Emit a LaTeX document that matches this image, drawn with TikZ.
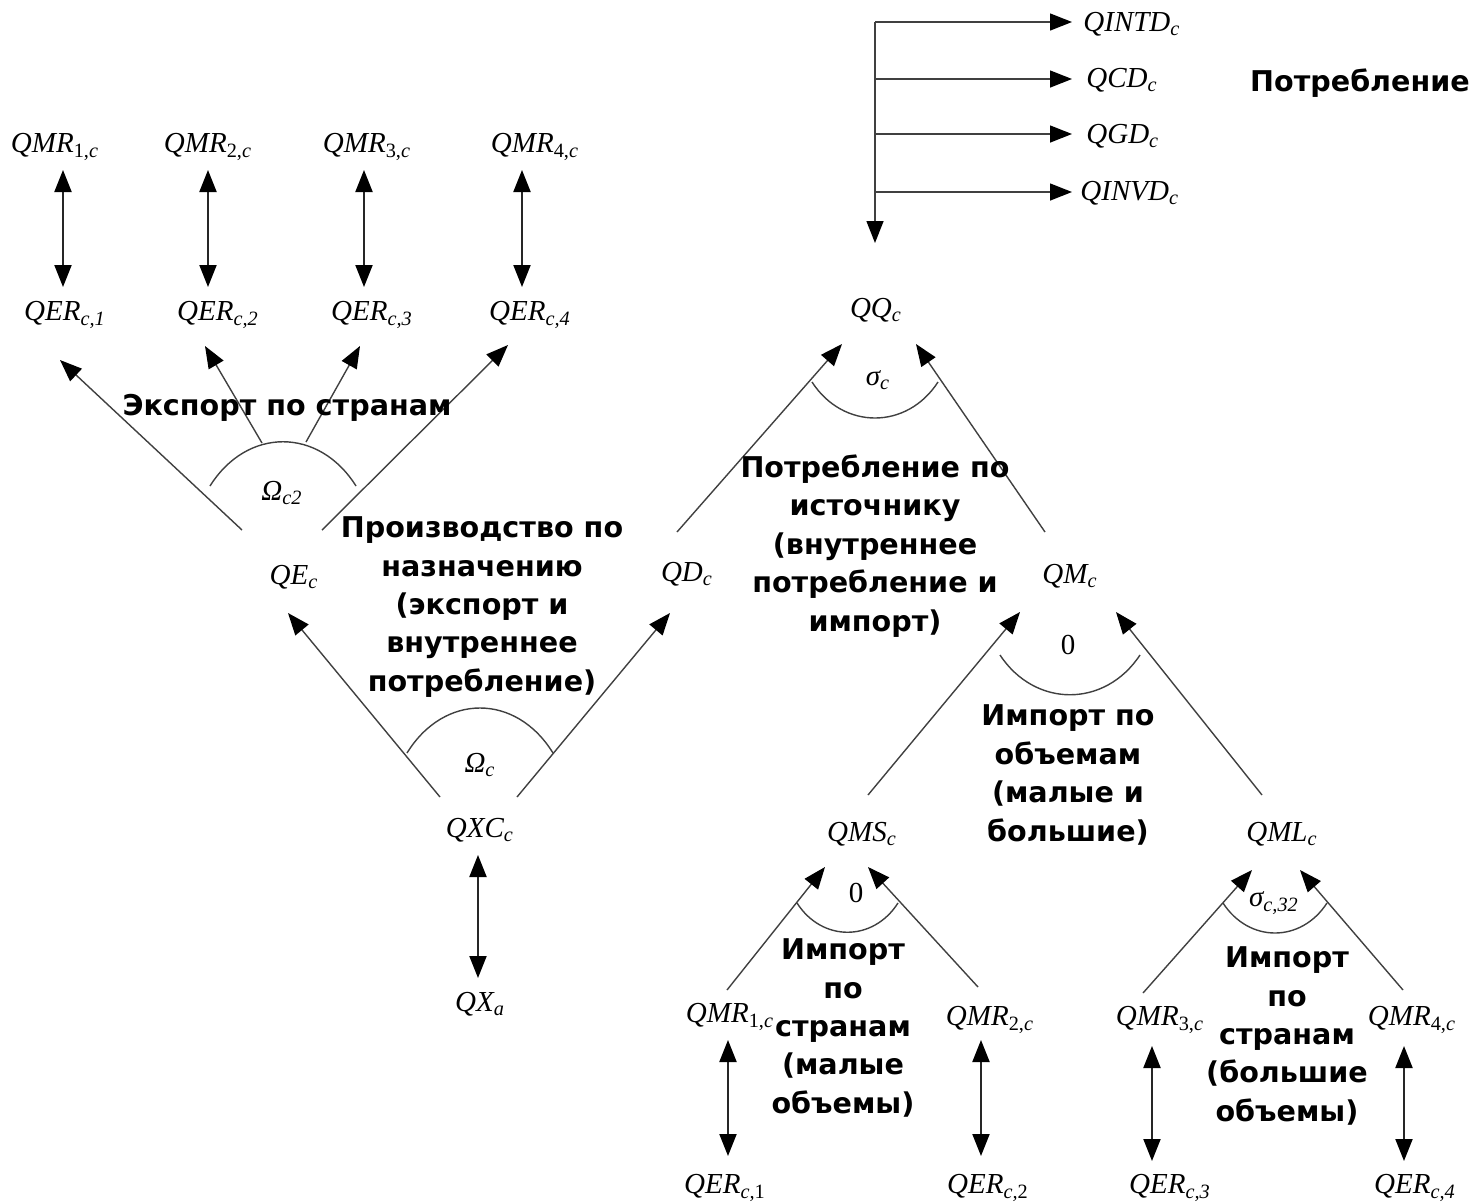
\documentclass[tikz,border=0pt]{standalone}
\usepackage{fontspec}
\setmainfont{Liberation Serif}
\newfontfamily\rufont{DejaVu Sans}
\usetikzlibrary{arrows.meta}
\newcommand\sbs[1]{\textsubscript{#1}}
\begin{document}
\begin{tikzpicture}[x=0.5pt,y=-0.5pt,
  ml/.style={font=\fontsize{14.5}{16}\selectfont\itshape, inner sep=0pt},
  rl/.style={font=\rufont\bfseries\fontsize{14.3}{19.2}\selectfont, align=center, inner sep=0pt},
  tipa/.tip={Triangle[length=11pt,width=8.5pt,color=black]},
  arr/.style={-tipa, line width=0.7pt, draw=black!75},
  dar/.style={tipa-tipa, line width=1pt, draw=black!85},
  arcl/.style={line width=0.7pt, draw=black!75}]
\useasboundingbox (0,0) rectangle (1474,1201);

% ---------- top-left group ----------
\node[ml] (mr1) at (55,147) {QMR\sbs{\upshape 1,\itshape c}};
\node[ml] (mr2) at (208,147) {QMR\sbs{\upshape 2,\itshape c}};
\node[ml] (mr3) at (367,147) {QMR\sbs{\upshape 3,\itshape c}};
\node[ml] (mr4) at (535,147) {QMR\sbs{\upshape 4,\itshape c}};
\node[ml] (er1) at (65,315) {QER\sbs{c,1}};
\node[ml] (er2) at (218,315) {QER\sbs{c,2}};
\node[ml] (er3) at (372,315) {QER\sbs{c,3}};
\node[ml] (er4) at (530,315) {QER\sbs{c,4}};
\coordinate (v1a) at (63,170);  \coordinate (v1b) at (63,287);
\coordinate (v2a) at (208,170); \coordinate (v2b) at (208,287);
\coordinate (v3a) at (364,170); \coordinate (v3b) at (364,287);
\coordinate (v4a) at (522,170); \coordinate (v4b) at (522,287);
\draw[dar] (v1a) -- (v1b);
\draw[dar] (v2a) -- (v2b);
\draw[dar] (v3a) -- (v3b);
\draw[dar] (v4a) -- (v4b);

\node[ml] (qe) at (294,577) {QE\sbs{c}};
\node[ml] (om2) at (282,493) {Ω\sbs{c2}};
\coordinate (e1s) at (242,530); \coordinate (e1e) at (60,360);
\coordinate (e2s) at (262,443); \coordinate (e2e) at (205,346);
\coordinate (e3s) at (306,442); \coordinate (e3e) at (360,346);
\coordinate (e4s) at (322,530); \coordinate (e4e) at (508,345);
\draw[arr] (e1s) -- (e1e);
\draw[arr] (e2s) -- (e2e);
\draw[arr] (e3s) -- (e3e);
\draw[arr] (e4s) -- (e4e);
\draw[arcl] (210,486) .. controls (247,427) and (319,427) .. (356,486);
\node[rl] (t1) at (287,408) {Экспорт по странам};

% ---------- production ----------
\node[ml] (qxc) at (480,830) {QXC\sbs{c}};
\node[ml] (qxa) at (480,1004) {QX\sbs{a}};
\node[ml] (omc) at (480,765) {Ω\sbs{c}};
\coordinate (x1a) at (478,855); \coordinate (x1b) at (478,978);
\draw[dar] (x1a) -- (x1b);
\coordinate (p1s) at (440,797); \coordinate (p1e) at (288,613);
\coordinate (p2s) at (517,797); \coordinate (p2e) at (670,613);
\draw[arr] (p1s) -- (p1e);
\draw[arr] (p2s) -- (p2e);
\draw[arcl] (407,753) .. controls (444,693) and (516,693) .. (553,753);
\node[rl] (t2) at (482,607) {Производство по\\назначению\\(экспорт и\\внутреннее\\потребление)};

% ---------- consumption ----------
\node[ml] (qd) at (687,574) {QD\sbs{c}};
\node[ml] (qq) at (876,310) {QQ\sbs{c}};
\node[ml] (sgc) at (878,380) {σ\sbs{c}};
\node[ml] (qm) at (1070,576) {QM\sbs{c}};
\coordinate (q1s) at (677,532); \coordinate (q1e) at (842,344);
\coordinate (q2s) at (1045,532); \coordinate (q2e) at (916,344);
\draw[arr] (q1s) -- (q1e);
\draw[arr] (q2s) -- (q2e);
\draw[arcl] (812,382) .. controls (843,430) and (907,430) .. (938,382);
\node[rl] (t3) at (875,546) {Потребление по\\источнику\\(внутреннее\\потребление и\\импорт)};

% ---------- top final demand ----------
\node[ml, anchor=west] (qintd) at (1083,24) {QINTD\sbs{c}};
\node[ml, anchor=west] (qcd) at (1086,80) {QCD\sbs{c}};
\node[ml, anchor=west] (qgd) at (1086,136) {QGD\sbs{c}};
\node[ml, anchor=west] (qinvd) at (1080,193) {QINVD\sbs{c}};
\coordinate (vt) at (875,22); \coordinate (vb) at (875,243);
\draw[arr] (vt) -- (vb);
\coordinate (h1) at (875,22);  \coordinate (h1e) at (1072,22);
\coordinate (h2) at (875,79);  \coordinate (h2e) at (1072,79);
\coordinate (h3) at (875,134); \coordinate (h3e) at (1072,134);
\coordinate (h4) at (875,192); \coordinate (h4e) at (1072,192);
\draw[arr] (h1) -- (h1e);
\draw[arr] (h2) -- (h2e);
\draw[arr] (h3) -- (h3e);
\draw[arr] (h4) -- (h4e);
\node[rl] (t4) at (1360,83) {Потребление};

% ---------- imports by volume ----------
\node[ml] (zero1) at (1068,645) {\upshape 0};
\node[ml] (qms) at (862,834) {QMS\sbs{c}};
\node[ml] (qml) at (1282,834) {QML\sbs{c}};
\coordinate (m1s) at (868,795); \coordinate (m1e) at (1020,612);
\coordinate (m2s) at (1262,795); \coordinate (m2e) at (1116,612);
\draw[arr] (m1s) -- (m1e);
\draw[arr] (m2s) -- (m2e);
\draw[arcl] (1000,655) .. controls (1035,708) and (1105,708) .. (1140,655);
\node[rl] (t5) at (1068,775) {Импорт по\\объемам\\(малые и\\большие)};

% ---------- small volumes ----------
\node[ml] (zero2) at (856,893) {\upshape 0};
\node[ml] (bmr1) at (730,1017) {QMR\sbs{\upshape 1,\itshape c}};
\node[ml] (bmr2) at (990,1020) {QMR\sbs{\upshape 2,\itshape c}};
\node[ml] (ber1) at (725,1188) {QER\sbs{\itshape c,\upshape 1}};
\node[ml] (ber2) at (988,1188) {QER\sbs{\itshape c,\upshape 2}};
\coordinate (s1s) at (727,990); \coordinate (s1e) at (825,867);
\coordinate (s2s) at (978,987); \coordinate (s2e) at (868,867);
\draw[arr] (s1s) -- (s1e);
\draw[arr] (s2s) -- (s2e);
\draw[arcl] (797,903) .. controls (822,942) and (873,942) .. (898,903);
\coordinate (b1a) at (728,1040); \coordinate (b1b) at (728,1156);
\coordinate (b2a) at (981,1040); \coordinate (b2b) at (981,1156);
\draw[dar] (b1a) -- (b1b);
\draw[dar] (b2a) -- (b2b);
\node[rl] (t6) at (843,1028) {Импорт\\по\\странам\\(малые\\объемы)};

% ---------- large volumes ----------
\node[ml] (sg32) at (1274,903) {σ\sbs{c,32}};
\node[ml] (bmr3) at (1160,1020) {QMR\sbs{\upshape 3,\itshape c}};
\node[ml] (bmr4) at (1412,1020) {QMR\sbs{\upshape 4,\itshape c}};
\node[ml] (ber3) at (1170,1188) {QER\sbs{c,3}};
\node[ml] (ber4) at (1415,1188) {QER\sbs{c,4}};
\coordinate (l1s) at (1143,993); \coordinate (l1e) at (1252,870);
\coordinate (l2s) at (1403,990); \coordinate (l2e) at (1300,870);
\draw[arr] (l1s) -- (l1e);
\draw[arr] (l2s) -- (l2e);
\draw[arcl] (1223,903) .. controls (1249,943) and (1301,943) .. (1327,903);
\coordinate (b3a) at (1152,1046); \coordinate (b3b) at (1152,1161);
\coordinate (b4a) at (1404,1046); \coordinate (b4b) at (1404,1161);
\draw[dar] (b3a) -- (b3b);
\draw[dar] (b4a) -- (b4b);
\node[rl] (t7) at (1287,1036) {Импорт\\по\\странам\\(большие\\объемы)};
\end{tikzpicture}
\end{document}
